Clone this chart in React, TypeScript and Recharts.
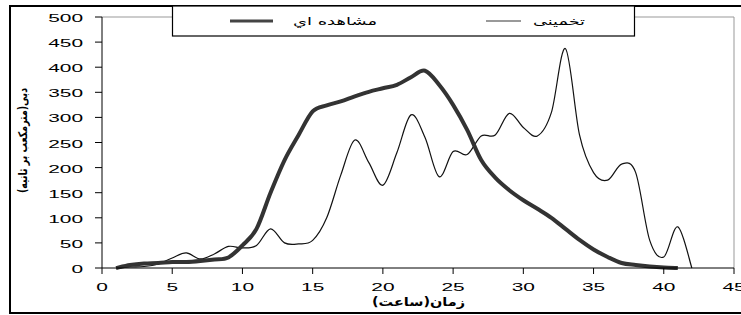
import React from 'react';
import { LineChart, Line, XAxis, YAxis, ReferenceLine } from 'recharts';

const hours = [1, 2, 3, 4, 5, 6, 7, 8, 9, 10, 11, 12, 13, 14, 15, 16, 17, 18, 19, 20, 21, 22, 23, 24, 25, 26, 27, 28, 29, 30, 31, 32, 33, 34, 35, 36, 37, 38, 39, 40, 41, 42];
const observed = [0, 6, 9, 10, 12, 12, 14, 17, 21, 45, 78, 150, 215, 265, 312, 324, 332, 342, 351, 358, 365, 380, 393, 365, 325, 275, 215, 180, 155, 135, 118, 100, 78, 56, 37, 22, 10, 6, 3, 1, 0];
const estimated = [0, 2, 3, 8, 20, 30, 18, 28, 43, 40, 45, 78, 50, 48, 55, 100, 185, 255, 210, 165, 230, 305, 260, 182, 232, 226, 263, 265, 308, 280, 263, 310, 437, 265, 190, 175, 207, 190, 55, 22, 82, 0];
const xTicks = [0, 5, 10, 15, 20, 25, 30, 35, 40, 45];
const yTicks = [0, 50, 100, 150, 200, 250, 300, 350, 400, 450, 500];
const legendObserved = 'مشاهده اي';
const legendEstimated = 'تخمینی';
const xLabel = 'زمان(ساعت)';
const yLabel = 'دبی(مترمکعب بر ثانیه)';

const data = hours.map((h, i) => ({
  h,
  obs: i < observed.length ? observed[i] : null,
  est: estimated[i],
}));

const tickFont = '"Liberation Sans", Arial, sans-serif';
const faFont = '"DejaVu Sans", sans-serif';

// Catmull-Rom style smoothing (similar to spreadsheet "smoothed line")
const smoothCurve = (context: any) => {
  let pts: number[][] = [];
  return {
    areaStart() {},
    areaEnd() {},
    lineStart() {
      pts = [];
    },
    point(x: number, y: number) {
      pts.push([+x, +y]);
    },
    lineEnd() {
      const n = pts.length;
      if (!n) return;
      context.moveTo(pts[0][0], pts[0][1]);
      if (n === 1) {
        context.lineTo(pts[0][0], pts[0][1]);
        return;
      }
      for (let i = 0; i < n - 1; i++) {
        const p0 = pts[i - 1] || pts[i];
        const p1 = pts[i];
        const p2 = pts[i + 1];
        const p3 = pts[i + 2] || p2;
        const c1x = p1[0] + (p2[0] - p0[0]) / 6;
        const c1y = p1[1] + (p2[1] - p0[1]) / 6;
        const c2x = p2[0] - (p3[0] - p1[0]) / 6;
        const c2y = p2[1] - (p3[1] - p1[1]) / 6;
        context.bezierCurveTo(c1x, c1y, c2x, c2y, p2[0], p2[1]);
      }
    },
  };
};

const XTick = (props: any) => {
  const { x, y, payload } = props;
  return (
    <g transform={`translate(${x},${y + 15})`}>
      <text transform="scale(1.9,1)" textAnchor="middle" fontSize={11} fontFamily={tickFont} fill="#000">
        {payload.value}
      </text>
    </g>
  );
};

const YTick = (props: any) => {
  const { x, y, payload } = props;
  return (
    <g transform={`translate(${x},${y + 5})`}>
      <text transform="scale(1.9,1)" textAnchor="end" fontSize={11} fontFamily={tickFont} fill="#000">
        {payload.value}
      </text>
    </g>
  );
};

export default function App() {
  return (
    <div style={{ position: 'absolute', left: 0, top: 0, width: 741, height: 315, background: '#fff' }}>
      <LineChart width={741} height={315} data={data} margin={{ top: 17, right: 7, bottom: 17, left: 0 }}>
        <ReferenceLine y={500} stroke="#999" strokeWidth={1} />
        <ReferenceLine x={45} stroke="#999" strokeWidth={1} />
        <XAxis
          dataKey="h"
          type="number"
          domain={[0, 45]}
          ticks={xTicks}
          height={30}
          tickSize={6}
          tickMargin={2}
          axisLine={{ stroke: '#000', strokeWidth: 1 }}
          tickLine={{ stroke: '#000' }}
          tick={<XTick />}
          interval={0}
        />
        <YAxis
          type="number"
          domain={[0, 500]}
          ticks={yTicks}
          width={102}
          tickSize={7}
          tickMargin={12}
          axisLine={{ stroke: '#000', strokeWidth: 1 }}
          tickLine={{ stroke: '#000' }}
          tick={<YTick />}
          interval={0}
        />
        <Line type={smoothCurve as any} dataKey="est" stroke="#111" strokeWidth={1.2} dot={false} isAnimationActive={false} connectNulls={false} />
        <Line type={smoothCurve as any} dataKey="obs" stroke="#333" strokeWidth={4} dot={false} isAnimationActive={false} connectNulls={false} />
      </LineChart>
      <svg width={741} height={315} style={{ position: 'absolute', left: 0, top: 0, pointerEvents: 'none' }}>
        <rect x={10} y={6} width={740} height={307} fill="none" stroke="#000" strokeWidth={2} />
        <rect x={172.5} y={6} width={462} height={30} fill="#fff" stroke="#000" strokeWidth={1.2} />
        <line x1={230} y1={21} x2={273} y2={21} stroke="#444" strokeWidth={3} />
        <text x={293} y={25} fontSize={11} fontFamily={faFont} fill="#000" textLength={84} lengthAdjust="spacingAndGlyphs">
          {legendObserved}
        </text>
        <line x1={486} y1={21} x2={521} y2={21} stroke="#999" strokeWidth={2} />
        <text x={533} y={25} fontSize={11} fontFamily={faFont} fill="#000" textLength={52} lengthAdjust="spacingAndGlyphs">
          {legendEstimated}
        </text>
        <text x={372} y={306} fontSize={12} fontWeight="bold" fontFamily={faFont} fill="#000" textLength={93} lengthAdjust="spacingAndGlyphs">
          {xLabel}
        </text>
        <g transform="translate(27,193) rotate(-90)">
          <text x={0} y={0} fontSize={12} fontWeight="bold" fontFamily={faFont} fill="#000" textLength={105} lengthAdjust="spacingAndGlyphs">
            {yLabel}
          </text>
        </g>
      </svg>
    </div>
  );
}
